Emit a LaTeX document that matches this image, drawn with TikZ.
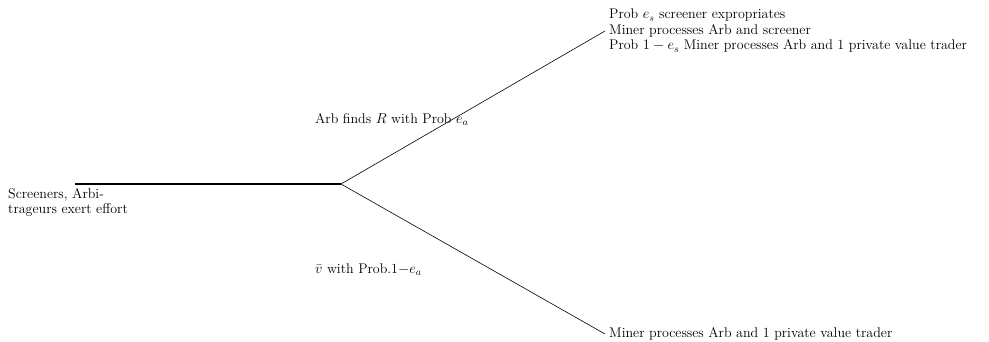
\documentclass[tikz,border=0pt]{standalone}
\usepackage{amsmath,amssymb}
\usepackage{tikz}

\begin{document}
\begin{tikzpicture}[
    x=1pt,
    y=1pt,
    every node/.style={
        font=\fontsize{14}{15.5}\selectfont
    },
    trunk/.style={
        line width=1.3pt
    },
    branch/.style={
        line width=0.6pt
    },
    outcome/.style={
        anchor=west,
        align=left,
        inner xsep=4pt,
        inner ysep=0pt
    },
    prob/.style={
        anchor=base west,
        inner sep=0pt
    }
]

\useasboundingbox (0,0) rectangle (989,341);


\coordinate (start) at (75,157);
\coordinate (split) at (341,157);
\coordinate (upend) at (605,310);
\coordinate (downend) at (605,7);


\draw[trunk] (start) -- (split);
\draw[branch] (split) -- (upend);
\draw[branch] (split) -- (downend);


\node[anchor=north west, align=left, inner sep=0pt] (effort) at (8,153)
    {Screeners, Arbi-\\trageurs exert effort};


\node[prob] (findR) at (315,218) {Arb finds $R$ with Prob $e_a$};
\node[prob] (noR) at (315,68) {$\bar{v}$ with Prob.1$-e_a$};


\node[outcome] (upout) at (upend)
    {Prob $e_s$ screener expropriates\\
     Miner processes Arb and screener\\
     Prob $1-e_s$ Miner processes Arb and 1 private value trader};
\node[outcome] (downout) at (downend)
    {Miner processes Arb and 1 private value trader};

\end{tikzpicture}
\end{document}
